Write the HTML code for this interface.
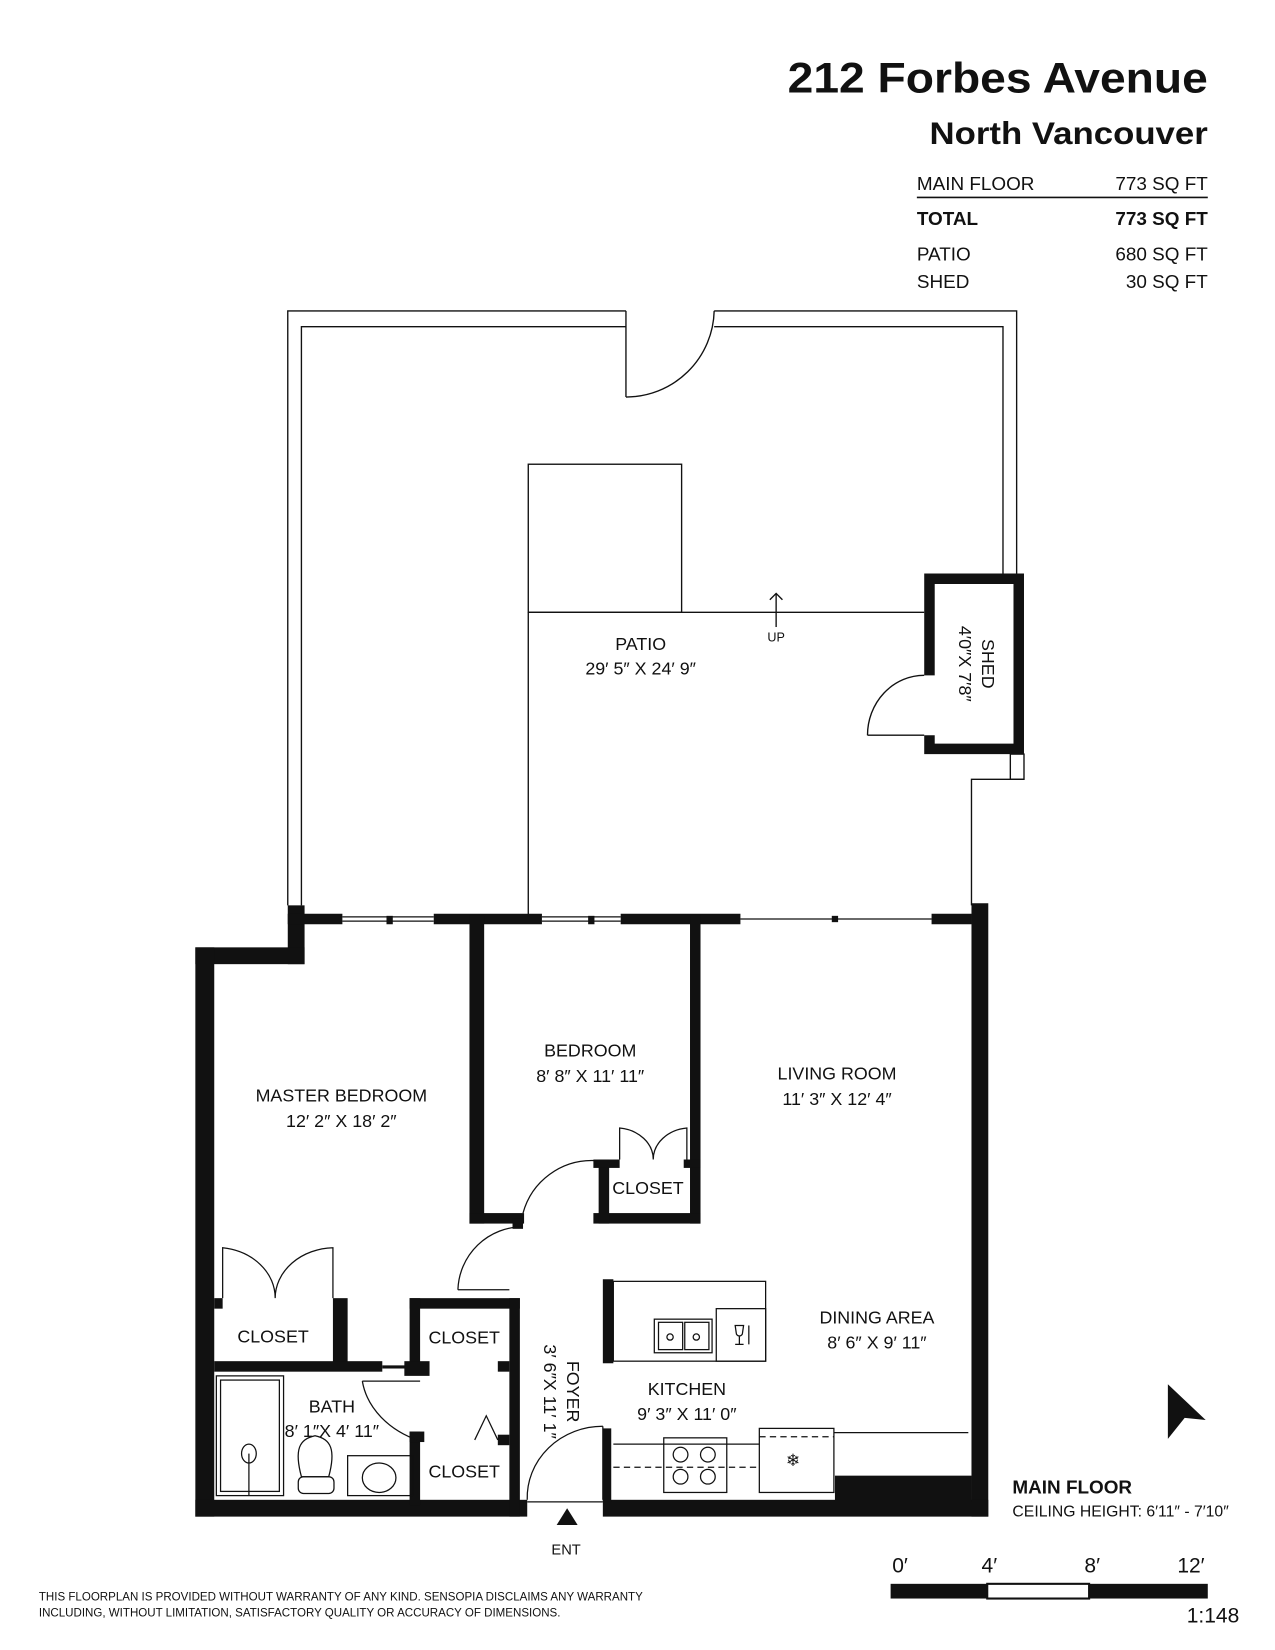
<!DOCTYPE html>
<html><head><meta charset="utf-8"><style>
html,body{margin:0;padding:0;background:#fff;}
svg{display:block;}
text{font-family:"Liberation Sans",sans-serif;fill:#111;}
</style></head><body>
<svg width="1275" height="1650" viewBox="0 0 1214 1571" preserveAspectRatio="none" xmlns="http://www.w3.org/2000/svg">
<rect width="1214" height="1571" fill="#fff"/>
<!-- Title -->
<text x="750" y="88" font-size="41" font-weight="bold" textLength="400" lengthAdjust="spacingAndGlyphs">212 Forbes Avenue</text>
<text x="885" y="137" font-size="30" font-weight="bold" textLength="265" lengthAdjust="spacingAndGlyphs">North Vancouver</text>
<g font-size="18">
<text x="873" y="181">MAIN FLOOR</text><text x="1150" y="181" text-anchor="end">773 SQ FT</text>
<text x="873" y="214" font-weight="bold">TOTAL</text><text x="1150" y="214" text-anchor="end" font-weight="bold">773 SQ FT</text>
<text x="873" y="248">PATIO</text><text x="1150" y="248" text-anchor="end">680 SQ FT</text>
<text x="873" y="274">SHED</text><text x="1150" y="274" text-anchor="end">30 SQ FT</text>
</g>
<line x1="873" y1="188" x2="1150" y2="188" stroke="#111" stroke-width="1.5"/>

<!-- Patio -->
<g fill="none" stroke="#111" stroke-width="1.3">
<polyline points="274,862 274,296 596,296"/>
<polyline points="287,862 287,311 596,311"/>
<line x1="596" y1="296" x2="596" y2="378"/>
<path d="M596,378 A84,84 0 0 0 680,296"/>
<polyline points="680,296 968,296 968,548"/>
<polyline points="680,311 955,311 955,548"/>
<rect x="503" y="442" width="146" height="141"/>
<line x1="503" y1="583" x2="880" y2="583"/>
<line x1="503" y1="583" x2="503" y2="872"/>
<line x1="739" y1="597" x2="739" y2="565"/>
<polyline points="733,571 739,565 745,571"/>
<rect x="962" y="718" width="13" height="24"/>
<polyline points="975,742 925,742 925,862"/>
<line x1="826" y1="700" x2="880" y2="700"/>
<path d="M826,700 A54,57 0 0 1 880,643"/>
</g>
<!-- Shed -->
<path d="M880,546 H975 V718 H880 V700 H890 V708 H965 V556 H890 V643 H880 Z" fill="#111"/>
<text x="739" y="611" font-size="12" text-anchor="middle">UP</text>
<text x="610" y="619" font-size="17" text-anchor="middle">PATIO</text>
<text x="610" y="642" font-size="17" text-anchor="middle">29′ 5″ X 24′ 9″</text>
<text transform="translate(935,632) rotate(90)" font-size="17" text-anchor="middle">SHED</text>
<text transform="translate(913,632) rotate(90)" font-size="17" text-anchor="middle">4′0″X 7′8″</text>

<!-- Main floor walls -->
<g fill="#111">
<rect x="274" y="862" width="16" height="56"/>
<rect x="274" y="870" width="52" height="10"/>
<rect x="413" y="870" width="103" height="10"/>
<rect x="591" y="870" width="114" height="10"/>
<rect x="887" y="870" width="38" height="10"/>
<rect x="368" y="872" width="6" height="8"/>
<rect x="560" y="872" width="6" height="8"/>
<rect x="792" y="872" width="6" height="6"/>
<rect x="925" y="860" width="16" height="584"/>
<rect x="186" y="902" width="104" height="16"/>
<rect x="186" y="902" width="18" height="542"/>
<rect x="186" y="1428" width="316" height="16"/>
<rect x="574" y="1428" width="367" height="16"/>
<rect x="795" y="1405" width="130" height="25"/>
<rect x="447" y="872" width="14" height="293"/>
<rect x="447" y="1155" width="52" height="10"/>
<rect x="488" y="1160" width="10" height="10"/>
<rect x="657" y="872" width="10" height="293"/>
<rect x="565" y="1155" width="102" height="10"/>
<rect x="570" y="1104" width="10" height="61"/>
<rect x="565" y="1104" width="25" height="8"/>
<rect x="651" y="1104" width="16" height="8"/>
<rect x="204" y="1236" width="8" height="10"/>
<rect x="317" y="1236" width="14" height="64"/>
<rect x="204" y="1296" width="160" height="10"/>
<rect x="364" y="1300" width="26" height="3"/>
<rect x="390" y="1236" width="105" height="10"/>
<rect x="390" y="1236" width="10" height="70"/>
<rect x="385" y="1296" width="24" height="14"/>
<rect x="485" y="1236" width="10" height="208"/>
<rect x="390" y="1363" width="10" height="70"/>
<rect x="390" y="1363" width="14" height="10"/>
<rect x="474" y="1296" width="11" height="10"/>
<rect x="474" y="1366" width="11" height="10"/>
<rect x="574" y="1218" width="10" height="80"/>
<rect x="574" y="1360" width="8" height="70"/>
</g>
<g fill="none" stroke="#111" stroke-width="1.2">
<line x1="326" y1="873" x2="413" y2="873"/><line x1="326" y1="877" x2="413" y2="877"/>
<line x1="516" y1="873" x2="591" y2="873"/><line x1="516" y1="877" x2="591" y2="877"/>
<line x1="705" y1="875" x2="887" y2="875"/>
<path d="M498,1155 A68,68 0 0 1 566,1105"/>
<path d="M436,1228 A62,62 0 0 1 498,1168"/>
<line x1="436" y1="1228" x2="485" y2="1228"/>
<path d="M345,1315 A90,72 0 0 0 400,1372"/>
<line x1="345" y1="1315" x2="400" y2="1315"/>
<path d="M502,1428 A72,68 0 0 1 574,1358"/>
<line x1="574" y1="1358" x2="574" y2="1428"/>
<path d="M212,1236 V1188 A57,48 0 0 1 262,1236 A57,48 0 0 1 317,1188 V1236"/>
<path d="M590,1104 V1074 A36,30 0 0 1 622,1104 A36,30 0 0 1 654,1074 V1104"/>
<polyline points="452,1371 463,1348 474,1371"/>
<rect x="206" y="1310" width="64" height="114"/>
<rect x="210" y="1314" width="56" height="106"/>
<ellipse cx="237" cy="1384" rx="7" ry="9"/><line x1="237" y1="1384" x2="237" y2="1424"/>
<path d="M287,1406 C280,1380 285,1370 300,1367 C315,1370 320,1380 313,1406 Z"/>
<rect x="284" y="1406" width="34" height="16" rx="5"/>
<rect x="331" y="1386" width="62" height="38"/>
<ellipse cx="361" cy="1407" rx="16" ry="14"/>
<rect x="584" y="1220" width="145" height="76"/>
<rect x="682" y="1246" width="47" height="50"/>
<rect x="623" y="1256" width="55" height="32"/>
<rect x="627" y="1259" width="23" height="26"/><rect x="652" y="1259" width="23" height="26"/>
<circle cx="638" cy="1273" r="3"/><circle cx="663" cy="1273" r="3"/>
<path d="M700,1262 h8 l-1,7 a3,3 0 0 1 -6,0 z M704,1272 v8 M700,1280 h8"/>
<line x1="713" y1="1262" x2="713" y2="1280"/>
<line x1="584" y1="1375" x2="723" y2="1375"/>
<rect x="632" y="1369" width="60" height="52"/>
<circle cx="648" cy="1385" r="7"/><circle cx="674" cy="1385" r="7"/>
<circle cx="648" cy="1406" r="7"/><circle cx="674" cy="1406" r="7"/>
<rect x="723" y="1360" width="71" height="61"/>
<line x1="584" y1="1397" x2="723" y2="1397" stroke-dasharray="6,4"/>
<line x1="723" y1="1368" x2="794" y2="1368" stroke-dasharray="6,4"/>
<line x1="794" y1="1364" x2="922" y2="1364"/>
<line x1="502" y1="1430" x2="574" y2="1430"/>
</g>
<text x="755" y="1396" font-size="16" text-anchor="middle">❄</text>
<polygon points="540,1436 530,1452 550,1452" fill="#111"/>
<g font-size="17" text-anchor="middle">
<text x="325" y="1049">MASTER BEDROOM</text><text x="325" y="1073">12′ 2″ X 18′ 2″</text>
<text x="562" y="1006">BEDROOM</text><text x="562" y="1030">8′ 8″ X 11′ 11″</text>
<text x="797" y="1028">LIVING ROOM</text><text x="797" y="1052">11′ 3″ X 12′ 4″</text>
<text x="617" y="1137">CLOSET</text>
<text x="260" y="1278">CLOSET</text>
<text x="442" y="1279">CLOSET</text>
<text x="442" y="1407">CLOSET</text>
<text x="316" y="1345">BATH</text><text x="316" y="1368">8′ 1″X 4′ 11″</text>
<text x="835" y="1260">DINING AREA</text><text x="835" y="1284">8′ 6″ X 9′ 11″</text>
<text x="654" y="1328">KITCHEN</text><text x="654" y="1352">9′ 3″ X 11′ 0″</text>
<text x="539" y="1480" font-size="14">ENT</text>
</g>
<text transform="translate(540,1325) rotate(90)" font-size="17" text-anchor="middle">FOYER</text>
<text transform="translate(518,1325) rotate(90)" font-size="17" text-anchor="middle">3′ 6″X 11′ 1″</text>
<polygon points="1112,1318 1148,1352 1128,1350 1112,1370" fill="#111"/>
<text x="964" y="1422" font-size="18" font-weight="bold">MAIN FLOOR</text>
<text x="964" y="1444" font-size="15">CEILING HEIGHT: 6′11″ - 7′10″</text>
<g font-size="20"><text x="857" y="1497" text-anchor="middle">0′</text><text x="942" y="1497" text-anchor="middle">4′</text><text x="1040" y="1497" text-anchor="middle">8′</text><text x="1134" y="1497" text-anchor="middle">12′</text></g>
<rect x="848" y="1508" width="92" height="14" fill="#111"/>
<rect x="940" y="1508" width="97" height="14" fill="#fff" stroke="#111" stroke-width="2"/>
<rect x="1037" y="1508" width="113" height="14" fill="#111"/>
<text x="1180" y="1545" font-size="20" text-anchor="end">1:148</text>
<text x="37" y="1524" font-size="11">THIS FLOORPLAN IS PROVIDED WITHOUT WARRANTY OF ANY KIND. SENSOPIA DISCLAIMS ANY WARRANTY</text>
<text x="37" y="1539" font-size="11">INCLUDING, WITHOUT LIMITATION, SATISFACTORY QUALITY OR ACCURACY OF DIMENSIONS.</text>
</svg>
</body></html>
